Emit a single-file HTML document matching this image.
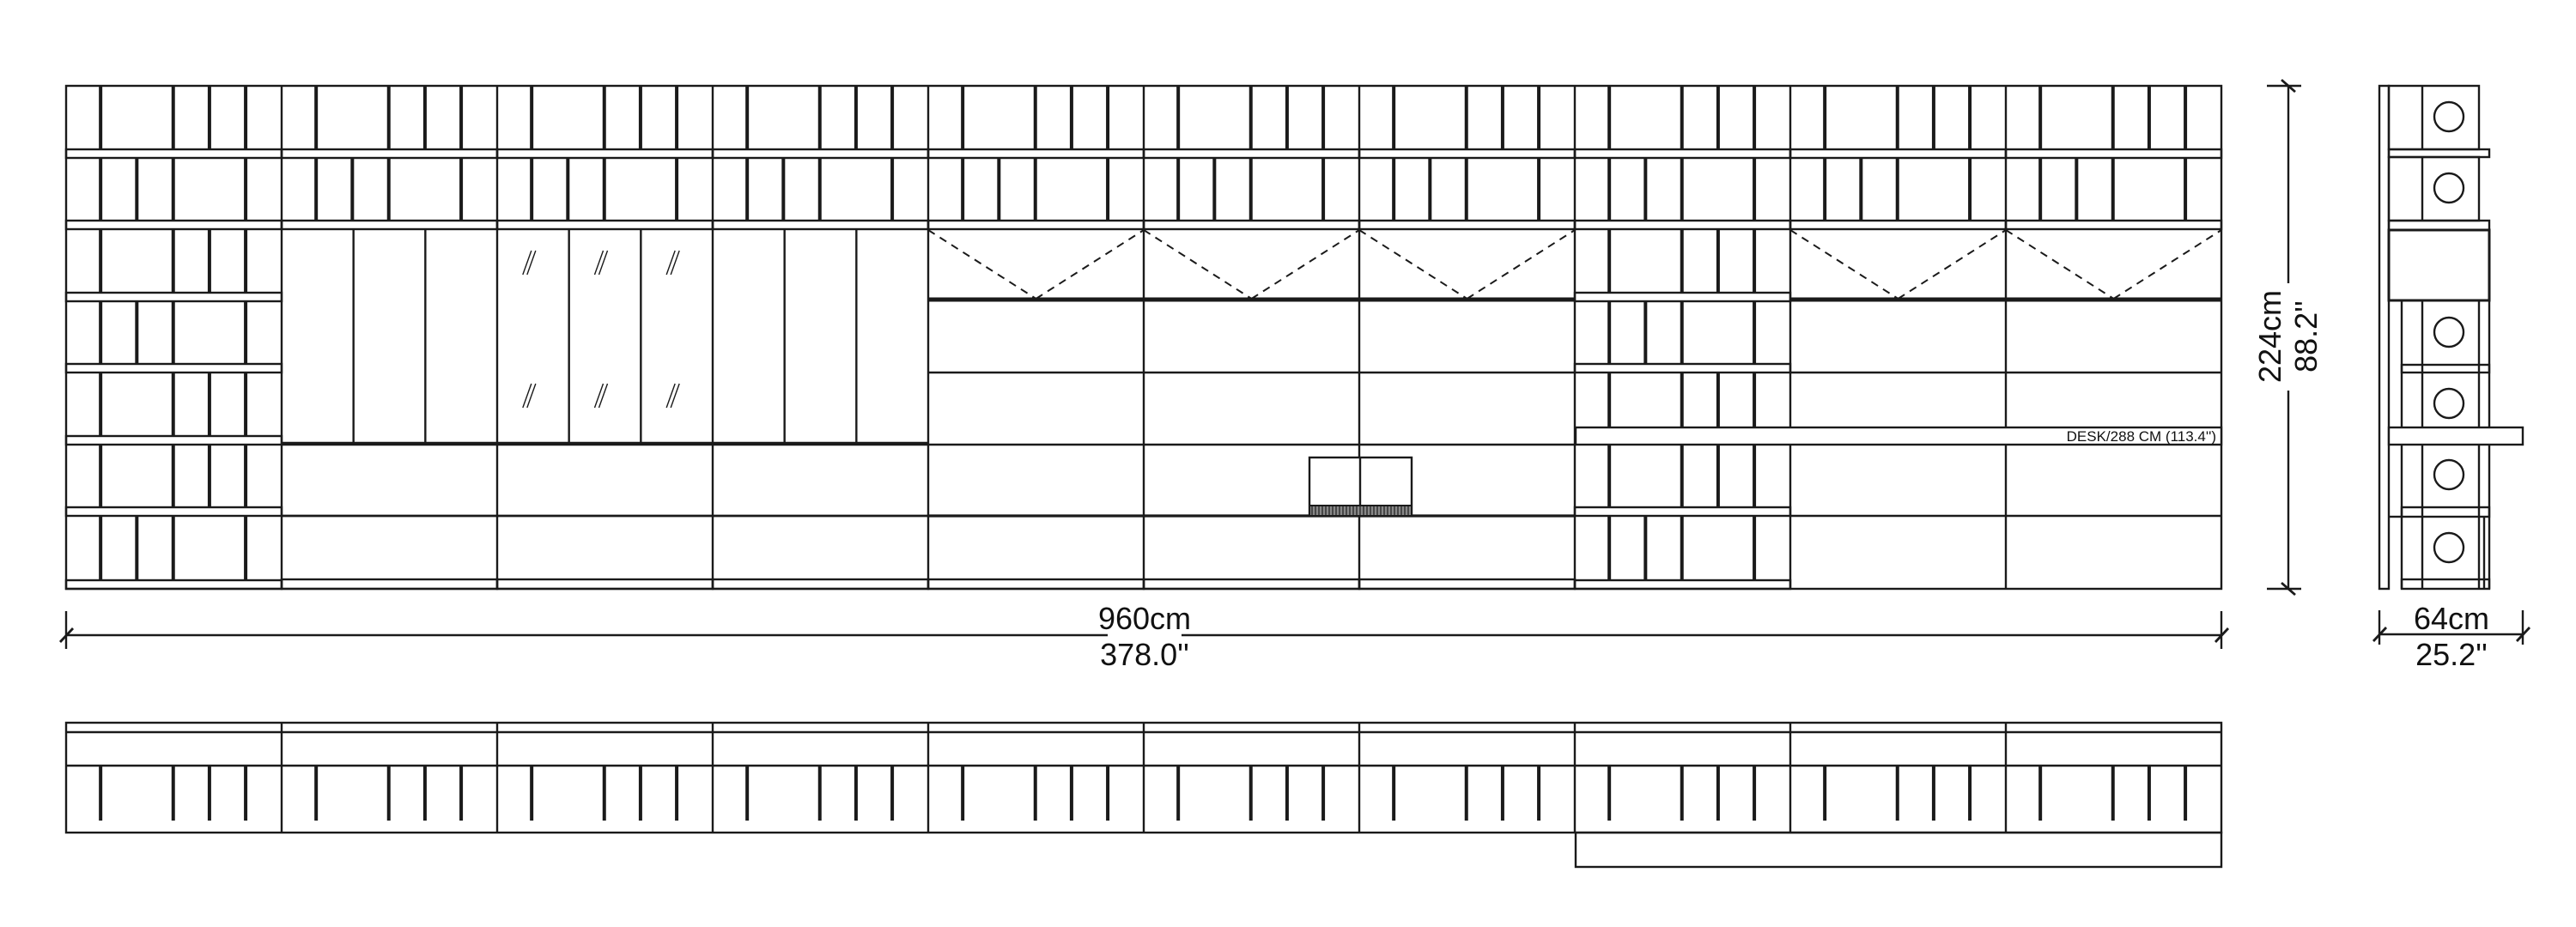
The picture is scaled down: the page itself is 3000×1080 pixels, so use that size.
<!DOCTYPE html>
<html><head><meta charset="utf-8"><style>
html,body{margin:0;padding:0;background:#fff;width:3000px;height:1080px;overflow:hidden}
svg{position:absolute;left:0;top:0}
text{font-family:"Liberation Sans",sans-serif;fill:#111}
</style></head><body>
<svg id="s" width="3000" height="1080" viewBox="0 0 3000 1080" xmlns="http://www.w3.org/2000/svg">
<g id="g" stroke="#1a1a1a" fill="none" stroke-width="2.4"></g>
<rect x="1290" y="716" width="86" height="42" fill="#fff"/>
<text x="1333" y="733" font-size="36" text-anchor="middle">960cm</text>
<text x="1333" y="775" font-size="36" text-anchor="middle">378.0''</text>
<rect x="2643" y="330" width="44" height="125" fill="#fff"/>
<text transform="translate(2656,392) rotate(-90)" font-size="36" text-anchor="middle">224cm</text>
<text transform="translate(2698,392) rotate(-90)" font-size="36" text-anchor="middle">88.2''</text>
<text x="2855" y="733" font-size="36" text-anchor="middle">64cm</text>
<text x="2855" y="775" font-size="36" text-anchor="middle">25.2''</text>
<text x="2581" y="514" font-size="17" text-anchor="end">DESK/288 CM (113.4'')</text>
</svg>
<script>
var g=document.getElementById('g'),NS='http://www.w3.org/2000/svg';
function L(x1,y1,x2,y2,w,d){var e=document.createElementNS(NS,'line');e.setAttribute('x1',x1);e.setAttribute('y1',y1);e.setAttribute('x2',x2);e.setAttribute('y2',y2);if(w)e.setAttribute('stroke-width',w);if(d)e.setAttribute('stroke-dasharray',d);g.appendChild(e);}
function R(x,y,w,h,sw,f){var e=document.createElementNS(NS,'rect');e.setAttribute('x',x);e.setAttribute('y',y);e.setAttribute('width',w);e.setAttribute('height',h);if(sw)e.setAttribute('stroke-width',sw);if(f)e.setAttribute('fill',f);g.appendChild(e);}
function C(cx,cy,r){var e=document.createElementNS(NS,'circle');e.setAttribute('cx',cx);e.setAttribute('cy',cy);e.setAttribute('r',r);g.appendChild(e);}
var M=77,W=251,B=[100,184,267,351,434,518,601,686];
var A=[0.16,0.497,0.665,0.833],Bp=[0.16,0.328,0.497,0.833];
R(M,100,W*10,586);
for(var k=1;k<10;k++)L(M+k*W,100,M+k*W,686);
function divs(x,p,y1,y2){p.forEach(function(r){L(x+r*W,y1,x+r*W,y2,4);});}
for(var k=0;k<10;k++){var x=M+k*W;
 R(x,174,W,10);R(x,257,W,10);
 divs(x,A,100,174);divs(x,Bp,184,257);}
[0,7].forEach(function(k){var x=M+k*W;var pats=[A,Bp,A,A,Bp];
 for(var i=2;i<7;i++){var top=B[i],bot=B[i+1]-10;
  if(k==7&&i==4){bot=498;}else R(x,B[i+1]-10,W,10);
  divs(x,pats[i-2],top,bot);}
});
for(var k=1;k<=3;k++){var x=M+k*W;
 L(x+W/3,267,x+W/3,518);L(x+2*W/3,267,x+2*W/3,518);
 L(x,517,x+W,517,4.5);L(x,601,x+W,601,2.8);R(x,675,W,11);
 if(k==2){for(var j=0;j<3;j++){var cx=x+W/6+j*W/3-6;
  [[292,320],[447,475]].forEach(function(yy){L(cx-6,yy[1],cx+4,yy[0],1.4);L(cx-1,yy[1],cx+9,yy[0],1.4);});}}
}
[4,5,6,8,9].forEach(function(k){var x=M+k*W;
 L(x,268,x+W/2,348,2,'9 7');L(x+W/2,348,x+W,268,2,'9 7');
 L(x,349,x+W,349,5);L(x,434,x+W,434);
 if(k<=6){L(x,518,x+W,518);L(x,601,x+W,601,3.2);R(x,675,W,11);}
 else{L(x,601,x+W,601);}
});
R(1835,498,752,20,2.4,'#fff');
R(1525,533,119,68,2.4,'#fff');L(1584,533,1584,601);
R(1525,589,119,12,2,'#888');for(var xx=1528;xx<1644;xx+=4)L(xx,589,xx,601,1.2);
L(77,740,2587,740);L(77,712,77,756);L(2587,712,2587,756);
L(70,748,85,732,2.8);L(2580,748,2595,732,2.8);
L(2665,100,2665,686);L(2640,100,2680,100);L(2640,686,2680,686);
L(2657,93,2673,107,2.8);L(2657,679,2673,693,2.8);
R(2771,100,11,586);R(2782,100,105,74);L(2821,100,2821,174);
R(2782,174,117,9);R(2782,183,105,74);L(2821,183,2821,257);
R(2782,257,117,11);R(2782,268,117,82,3);
L(2797,350,2797,686);L(2821,350,2821,686);L(2887,350,2887,686);L(2899,350,2899,686);
R(2797,425,102,9);R(2782,498,156,20,2.4,'#fff');R(2797,591,102,11);L(2782,602,2797,602);
R(2797,675,102,11);L(2893,602,2893,686);
[136,219,387,470,553,638].forEach(function(cy){C(2852,cy,17);});
L(2771,739,2938,739);L(2771,711,2771,751);L(2938,711,2938,751);
L(2764,747,2779,731,2.8);L(2931,747,2946,731,2.8);
R(M,842,W*10,128);L(M,853,M+W*10,853);L(M,892,M+W*10,892);
for(var k=1;k<10;k++)L(M+k*W,842,M+k*W,970);
for(var k=0;k<10;k++)divs(M+k*W,A,893,956);
R(1835,970,752,40);
</script>
</body></html>
